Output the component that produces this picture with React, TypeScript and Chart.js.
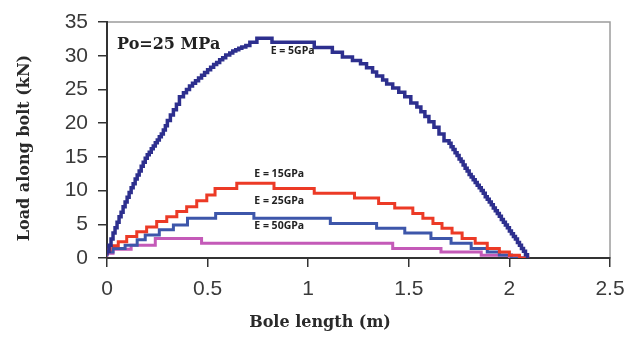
import React, { useEffect, useRef } from "react";
import { Chart, registerables } from "chart.js";

Chart.register(...registerables);

// ---- data ----
const X_MIN = 0;
const X_MAX = 2.5;
const X_STEP = 0.5;
const Y_MIN = 0;
const Y_MAX = 35;
const Y_STEP = 5;

const X_TITLE = "Bole length (m)";
const Y_TITLE = "Load along bolt (kN)";
const PRESSURE_LABEL = "Po=25 MPa";

const SERIES_LABELS = ["E = 5GPa", "E = 15GPa", "E = 25GPa", "E = 50GPa"];
const SERIES_COLORS = ["#2d2f8e", "#ec3a26", "#3d56aa", "#c45ab8"];
// label anchor points in data units (x, kN)
const LABEL_X = [0.923, 0.856, 0.856, 0.856];
const LABEL_Y = [30.7, 12.5, 8.5, 4.75];
const PRESSURE_X = 0.05;
const PRESSURE_Y = 31.6;

const e5X = [
  0, 0.01, 0.02, 0.03, 0.04, 0.05, 0.06, 0.07, 0.08, 0.09, 0.1, 0.11, 0.12, 0.13, 0.14, 0.15,
  0.16, 0.17, 0.18, 0.19, 0.2, 0.21, 0.22, 0.23, 0.24, 0.25, 0.26, 0.27, 0.28, 0.29, 0.3,
  0.315, 0.33, 0.345, 0.36, 0.38, 0.395, 0.41, 0.425, 0.44, 0.455, 0.47, 0.485, 0.5, 0.515,
  0.53, 0.545, 0.56, 0.575, 0.59, 0.61, 0.625, 0.64, 0.655, 0.67, 0.69, 0.71, 0.745, 0.82,
  1.03, 1.12, 1.17, 1.22, 1.26, 1.29, 1.32, 1.34, 1.37, 1.39, 1.42, 1.45, 1.48, 1.51, 1.54,
  1.56, 1.58, 1.6, 1.625, 1.65, 1.675, 1.7, 1.71, 1.72, 1.73, 1.74, 1.75, 1.76, 1.77, 1.78,
  1.79, 1.8, 1.81, 1.82, 1.83, 1.84, 1.85, 1.86, 1.87, 1.88, 1.89, 1.9, 1.91, 1.92, 1.93,
  1.94, 1.95, 1.96, 1.97, 1.98, 1.99, 2.0, 2.01, 2.02, 2.03, 2.04, 2.05, 2.06, 2.07, 2.08,
  2.09, 2.095,
];
const e5Y = [
  0.5, 1.0, 1.9, 2.8, 3.7, 4.5, 5.3, 6.1, 6.8, 7.6, 8.3, 9.0, 9.7, 10.4, 11.0, 11.7,
  12.3, 12.9, 13.6, 14.2, 14.8, 15.3, 15.7, 16.2, 16.6, 17.1, 17.5, 18.0, 18.4, 19.0, 19.6,
  20.4, 21.2, 22.0, 22.8, 23.9, 24.5, 25.0, 25.5, 25.9, 26.3, 26.7, 27.1, 27.5, 27.9,
  28.3, 28.7, 29.0, 29.4, 29.7, 30.1, 30.4, 30.7, 30.9, 31.1, 31.3, 31.5, 32.0, 32.6,
  32.0, 31.2, 30.5, 29.8, 29.3, 28.8, 28.2, 27.6, 27.0, 26.4, 25.8, 25.2, 24.6, 23.9, 23.0,
  22.4, 21.7, 21.0, 20.2, 19.4, 18.4, 17.4, 17.0, 16.5, 16.1, 15.6, 15.2, 14.7, 14.3, 13.8,
  13.3, 12.9, 12.4, 12.0, 11.6, 11.2, 10.8, 10.4, 10.0, 9.6, 9.1, 8.7, 8.3, 7.9, 7.4,
  7.0, 6.6, 6.2, 5.7, 5.3, 4.9, 4.5, 4.0, 3.6, 3.2, 2.8, 2.3, 1.9, 1.4, 1.0,
  0.5, 0,
];

const e15X = [
  0, 0.015, 0.056, 0.098, 0.148, 0.197, 0.247, 0.297, 0.347, 0.396, 0.446, 0.496, 0.537,
  0.645, 0.83, 1.03, 1.23, 1.35, 1.43, 1.52, 1.57, 1.62, 1.665, 1.715, 1.765, 1.83, 1.89,
  1.95, 2.0, 2.05, 2.1,
];
const e15Y = [
  0.5, 1.2, 1.8, 2.4, 3.2, 3.9, 4.6, 5.4, 6.1, 6.9, 7.6, 8.5, 9.35, 10.3, 11.1, 10.3, 9.6,
  8.9, 8.1, 7.4, 6.6, 5.9, 5.1, 4.4, 3.7, 2.9, 2.2, 1.4, 0.9, 0.4, 0,
];

const e25X = [
  0, 0.03, 0.09, 0.15, 0.19, 0.26, 0.33, 0.4, 0.54, 0.73, 1.11, 1.34, 1.48, 1.61, 1.71, 1.81,
  1.89, 1.95, 2.01, 2.08,
];
const e25Y = [
  0.3, 0.9, 1.4, 1.9, 2.7, 3.4, 4.2, 4.9, 5.9, 6.6, 5.9, 5.1, 4.4, 3.7, 2.9, 2.2, 1.4, 0.9,
  0.45, 0,
];

const e50X = [0, 0.03, 0.12, 0.24, 0.47, 1.42, 1.66, 1.86, 2.0, 2.08];
const e50Y = [0.2, 0.7, 1.3, 1.9, 2.9, 2.2, 1.4, 0.9, 0.4, 0];

const SERIES_X = [e5X, e15X, e25X, e50X];
const SERIES_Y = [e5Y, e15Y, e25Y, e50Y];
const SERIES_WIDTHS = [3.5, 3, 3, 3];

export default function App() {
  const ref = useRef<HTMLCanvasElement | null>(null);

  useEffect(() => {
    if (!ref.current) return;

    const datasets = SERIES_X.map((xs, i) => ({
      label: SERIES_LABELS[i],
      data: xs.map((x, j) => ({ x, y: SERIES_Y[i][j] })),
      borderColor: SERIES_COLORS[i],
      backgroundColor: SERIES_COLORS[i],
      borderWidth: SERIES_WIDTHS[i],
      pointRadius: 0,
      stepped: "after" as const,
      fill: false,
      order: i,
    }));

    const decor = {
      id: "decor",
      beforeDraw(chart: any) {
        const { ctx, chartArea } = chart;
        const { left, top, right, bottom } = chartArea;
        ctx.save();
        ctx.fillStyle = "#ffffff";
        ctx.fillRect(0, 0, chart.width, chart.height);
        ctx.strokeStyle = "#9c9c9c";
        ctx.lineWidth = 1.5;
        ctx.strokeRect(left, top, right - left, bottom - top);
        ctx.restore();
      },
      afterDraw(chart: any) {
        const { ctx, chartArea, scales } = chart;
        const xs = scales.x;
        const ys = scales.y;
        ctx.save();
        ctx.fillStyle = "#222222";
        ctx.textBaseline = "middle";
        ctx.textAlign = "center";
        ctx.font = 'bold 10.5px "Open Sans"';
        SERIES_LABELS.forEach((t, i) => {
          ctx.fillText(t, xs.getPixelForValue(LABEL_X[i]), ys.getPixelForValue(LABEL_Y[i]));
        });
        ctx.textAlign = "left";
        ctx.font = 'bold 16px "DejaVu Serif"';
        ctx.fillText(PRESSURE_LABEL, xs.getPixelForValue(PRESSURE_X), ys.getPixelForValue(PRESSURE_Y));

        // axis titles
        ctx.fillStyle = "#2a2a2a";
        ctx.font = 'bold 16px "DejaVu Serif"';
        ctx.textAlign = "center";
        const w = chartArea.right - chartArea.left;
        const h = chartArea.bottom - chartArea.top;
        ctx.fillText(X_TITLE, chartArea.left + 0.4235 * w, chart.height - 20);
        ctx.translate(25, chartArea.top + 0.534 * h);
        ctx.rotate(-Math.PI / 2);
        ctx.fillText(Y_TITLE, 0, 0);
        ctx.restore();
      },
    };

    const tickFont = { family: '"Liberation Sans", Arial, sans-serif', size: 21 };
    const fmt = (v: any) => String(Number(v));

    const chart = new Chart(ref.current, {
      type: "line",
      data: { datasets },
      options: {
        animation: false,
        responsive: false,
        maintainAspectRatio: false,
        layout: { autoPadding: false, padding: { top: 22, right: 19, left: 0, bottom: 0 } },
        plugins: {
          legend: { display: false },
          tooltip: { enabled: false },
          title: { display: false },
        },
        scales: {
          x: {
            type: "linear",
            min: X_MIN,
            max: X_MAX,
            ticks: { stepSize: X_STEP, font: tickFont, color: "#3a3a3a", padding: 10, callback: fmt, maxRotation: 0 },
            grid: {
              display: true,
              drawOnChartArea: false,
              drawTicks: true,
              tickLength: 9,
              color: "#333333",
              lineWidth: 1.5,
            },
            border: { display: true, color: "#333333", width: 2 },
            afterFit: (axis: any) => {
              axis.height = 85;
              axis.paddingLeft = 0;
              axis.paddingRight = 0;
            },
          },
          y: {
            type: "linear",
            min: Y_MIN,
            max: Y_MAX,
            ticks: { stepSize: Y_STEP, font: tickFont, color: "#3a3a3a", padding: 10, callback: fmt },
            grid: {
              display: true,
              drawOnChartArea: false,
              drawTicks: true,
              tickLength: 9,
              color: "#333333",
              lineWidth: 1.5,
            },
            border: { display: true, color: "#333333", width: 2 },
            afterFit: (axis: any) => {
              axis.width = 107;
              axis.paddingTop = 0;
              axis.paddingBottom = 0;
            },
          },
        },
      },
      plugins: [decor],
    });

    return () => chart.destroy();
  }, []);

  return (
    <div style={{ position: "fixed", left: 0, top: 0, width: 629, height: 343, background: "#fff" }}>
      <canvas ref={ref} width={629} height={343} style={{ display: "block" }} />
    </div>
  );
}
